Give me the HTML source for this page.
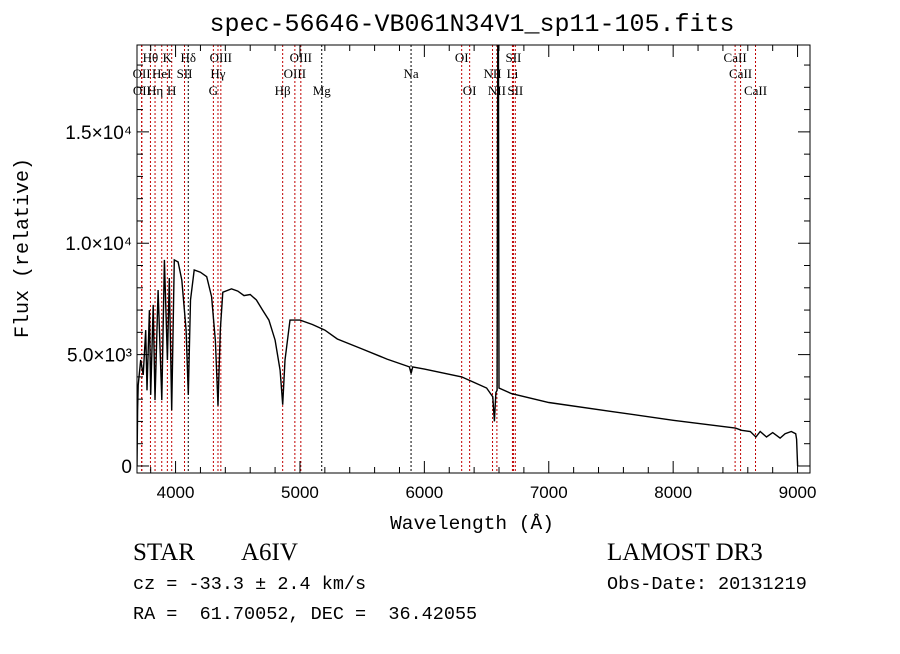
<!DOCTYPE html>
<html><head><meta charset="utf-8"><style>
body{margin:0;background:#fff;}
svg text{fill:#000;}
</style></head><body>
<svg id="chart" width="900" height="649" viewBox="0 0 900 649" xmlns="http://www.w3.org/2000/svg" font-family="Liberation Sans, sans-serif">
<rect width="900" height="649" fill="#fff"/>
<text x="472" y="31" font-size="25" text-anchor="middle" style="font-family:'Liberation Mono',monospace">spec-56646-VB061N34V1_sp11-105.fits</text>
<g id="lines"></g>
<g id="labels"></g>
<clipPath id="clip"><rect x="137" y="45" width="673" height="428"/></clipPath>
<path id="spec" fill="none" stroke="#000" stroke-width="1.4" clip-path="url(#clip)"/>
<rect x="137" y="45" width="673" height="428" fill="none" stroke="#000" stroke-width="1"/>
<g id="axes"></g>
<text x="472" y="529" font-size="19.5" text-anchor="middle" style="font-family:'Liberation Mono',monospace">Wavelength (Å)</text>
<text transform="translate(28,248) rotate(-90)" font-size="20" text-anchor="middle" style="font-family:'Liberation Mono',monospace">Flux (relative)</text>
<text x="133" y="560" font-size="25" style="font-family:'Liberation Serif',serif">STAR</text>
<text x="241" y="560" font-size="25" style="font-family:'Liberation Serif',serif">A6IV</text>
<text x="607" y="560" font-size="25" style="font-family:'Liberation Serif',serif">LAMOST DR3</text>
<text x="133" y="589" font-size="18.5" style="font-family:'Liberation Mono',monospace">cz = -33.3 ± 2.4 km/s</text>
<text x="607" y="589" font-size="18.5" style="font-family:'Liberation Mono',monospace">Obs-Date: 20131219</text>
<text x="133" y="619" font-size="18.5" style="font-family:'Liberation Mono',monospace" xml:space="preserve">RA =  61.70052, DEC =  36.42055</text>
</svg>
<script>
const wavelengths=[3690,3695,3700,3720,3740,3760,3770,3790,3800,3820,3835,3860,3889,3910,3934,3950,3969,3990,4020,4050,4085,4102,4120,4150,4200,4250,4290,4320,4341,4360,4380,4450,4500,4550,4600,4650,4700,4750,4800,4840,4861,4880,4920,5000,5100,5200,5300,5500,5700,5880,5893,5906,6000,6300,6500,6550,6563,6575,6585,6590,6595,6600,6700,7000,7500,8000,8500,8550,8620,8665,8700,8750,8800,8860,8900,8950,8985,8992,9000];
const fluxes=[0,2500,3630,4760,4090,6100,3400,7000,3190,7230,2960,7900,2960,9250,4760,8440,2500,9250,9160,8350,6100,3190,7450,8800,8700,8500,7600,5600,2700,6100,7800,7950,7850,7650,7700,7450,7000,6550,5650,4300,2750,4760,6550,6550,6350,6100,5700,5250,4800,4450,4150,4450,4350,4000,3500,3100,2000,3300,3400,20000,20000,3500,3250,2850,2450,2050,1700,1600,1550,1300,1550,1300,1500,1250,1450,1550,1450,1200,0];
const xTicks=[4000,5000,6000,7000,8000,9000];
const yTicks=[0,5000,10000,15000];
const yTickLabels=["0","5.0×10³","1.0×10⁴","1.5×10⁴"];
const lineWaves=[3727,3729,3798,3835,3889,3934,3969,4072,4102,4304,4341,4364,4861,4959,5007,5175,5893,6300,6364,6548,6583,6708,6716,6731,8498,8542,8662];
const lineNames=["OII","OII","Hθ","Hη","HeI","K","H","SII","Hδ","G","Hγ","OIII","Hβ","OIII","OIII","Mg","Na","OI","OI","NII","NII","Li","SII","SII","CaII","CaII","CaII"];
const lineRows=[2,3,1,3,2,1,3,2,1,3,2,1,3,2,1,3,2,1,3,2,3,2,1,3,1,2,3];
const lineBlack=[0,0,0,0,0,0,0,0,1,0,0,0,0,0,0,1,1,0,0,0,0,0,0,0,0,0,0];
const X0=137,X1=810,Y0=45,Y1=473;
const xMin=3690,xMax=9100,yMin=-315,yMax=18900;
const sx=w=>X0+(w-xMin)/(xMax-xMin)*(X1-X0);
const sy=f=>Y1-(f-yMin)/(yMax-yMin)*(Y1-Y0);
const NS="http://www.w3.org/2000/svg";
let d="";
wavelengths.forEach((w,i)=>{d+=(i?"L":"M")+sx(w).toFixed(1)+","+sy(fluxes[i]).toFixed(1);});
document.getElementById("spec").setAttribute("d",d);
const lg=document.getElementById("lines"),lb=document.getElementById("labels");
const rowY=[0,62,78,95];
lineWaves.forEach((w,i)=>{
  const l=document.createElementNS(NS,"line");
  
  
  l.setAttribute("x1",sx(w));l.setAttribute("x2",sx(w));l.setAttribute("y1",Y0);l.setAttribute("y2",Y1);
  l.setAttribute("stroke",lineBlack[i]?"#000":"#c00000");l.setAttribute("stroke-dasharray","2,2");l.setAttribute("stroke-width","1");
  lg.appendChild(l);
  const t=document.createElementNS(NS,"text");
  
  
  t.setAttribute("x",sx(w));t.setAttribute("y",rowY[lineRows[i]]);t.setAttribute("font-size","13");
  t.setAttribute("text-anchor","middle");t.setAttribute("style","font-family:'Liberation Serif',serif");
  t.textContent=lineNames[i];lb.appendChild(t);
});
const ax=document.getElementById("axes");
function mk(tag,attrs){const e=document.createElementNS(NS,tag);for(const k in attrs)e.setAttribute(k,attrs[k]);ax.appendChild(e);return e;}
for(let w=3800;w<=9100;w+=200){
  const major=xTicks.includes(w);const len=major?12:6;
  const a=mk("line",{x1:sx(w),x2:sx(w),y1:Y1,y2:Y1-len,stroke:"#000"});
  
  
  const b=mk("line",{x1:sx(w),x2:sx(w),y1:Y0,y2:Y0+len,stroke:"#000"});
  
  
}
xTicks.forEach(w=>{
  const t=mk("text",{x:sx(w),y:Y1+25,"font-size":"17","text-anchor":"middle"});
  
  
  t.textContent=String(w);
});
for(let f=0;f<=18000;f+=1000){
  const major=f%5000===0;const len=major?12:6;
  const a=mk("line",{x1:X0,x2:X0+len,y1:sy(f),y2:sy(f),stroke:"#000"});
  
  
  const b=mk("line",{x1:X1,x2:X1-len,y1:sy(f),y2:sy(f),stroke:"#000"});
  
  
}
yTicks.forEach((f,i)=>{
  const t=mk("text",{x:X0-5,y:sy(f)+7,"font-size":"19","text-anchor":"end"});
  
  
  t.textContent=yTickLabels[i];
});
</script>
</body></html>
